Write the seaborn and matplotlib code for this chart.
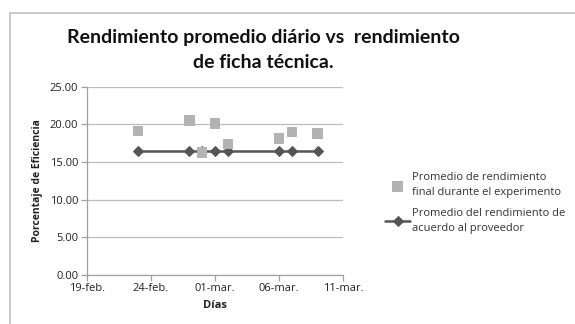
import matplotlib
matplotlib.use("Agg")
import matplotlib.pyplot as plt
from matplotlib.lines import Line2D
import seaborn as sns
import pandas as pd

# ---- data ----
dates = ["2014-02-23", "2014-02-27", "2014-02-28", "2014-03-01",
         "2014-03-02", "2014-03-06", "2014-03-07", "2014-03-09"]
experiment = [19.1, 20.5, 16.3, 20.1, 17.4, 18.1, 19.0, 18.8]
supplier = [16.5, 16.5, 16.5, 16.5, 16.5, 16.5, 16.5, 16.5]
tick_dates = ["2014-02-19", "2014-02-24", "2014-03-01", "2014-03-06", "2014-03-11"]
tick_labels = ["19-feb.", "24-feb.", "01-mar.", "06-mar.", "11-mar."]
y_ticks = [0, 5, 10, 15, 20, 25]
label_exp = "Promedio de rendimiento\nfinal durante el experimento"
label_sup = "Promedio del rendimiento de\nacuerdo al proveedor"
title = "Rendimiento promedio diário vs  rendimiento\nde ficha técnica."

df = pd.DataFrame({"fecha": pd.to_datetime(dates),
                   "exp": experiment, "sup": supplier})

sns.set_theme(style="white")
plt.rcParams["font.family"] = ["Open Sans", "DejaVu Sans"]

W, H = 575, 324
fig = plt.figure(figsize=(W / 100, H / 100), dpi=100)
ax = fig.add_axes([86.7 / W, 1 - 275 / H, (343.3 - 86.7) / W, (275 - 86.7) / H])

sns.lineplot(data=df, x="fecha", y="sup", ax=ax, color="#555555", lw=1.8,
             marker="D", markersize=5.5, markeredgecolor="#555555",
             label=label_sup, zorder=2)
sns.scatterplot(data=df, x="fecha", y="exp", ax=ax, color="#b3b3b3",
                marker="s", s=58, edgecolor="none", label=label_exp, zorder=3)

ax.set_ylim(0, 25)
ax.set_yticks(y_ticks)
ax.set_yticklabels([f"{v:.2f}" for v in y_ticks], fontsize=8, color="#222222")
td = pd.to_datetime(tick_dates)
ax.set_xlim(td[0], td[-1])
ax.set_xticks(td)
ax.set_xticklabels(tick_labels, fontsize=8, color="#222222")
ax.grid(axis="y", color="#bdbdbd", lw=0.9)
ax.set_axisbelow(True)
for s in ["top", "right"]:
    ax.spines[s].set_visible(False)
for s in ["left", "bottom"]:
    ax.spines[s].set_color("#a0a0a0")
    ax.spines[s].set_linewidth(0.9)
ax.tick_params(axis="both", which="major", length=4, width=0.9, color="#a0a0a0",
               direction="out", bottom=True, left=True, pad=2)
ax.set_xlabel("Días", fontsize=8, fontweight="bold", color="#222222", labelpad=4)
ax.set_ylabel("Porcentaje de Eficiencia", fontsize=7.5, fontweight="bold",
              color="#222222", labelpad=5)

handles, labels = ax.get_legend_handles_labels()
if ax.get_legend() is not None:
    ax.get_legend().remove()
order = [labels.index(label_exp), labels.index(label_sup)]
leg = fig.legend([handles[i] for i in order], [labels[i] for i in order],
                 loc="upper left", bbox_to_anchor=(381 / W, 1 - 168 / H),
                 frameon=False, fontsize=8, handlelength=2.2, handletextpad=0.2,
                 labelspacing=0.85, borderaxespad=0)
for t in leg.get_texts():
    t.set_color("#333333")
    t.set_linespacing(1.5)

fig.text(263 / W, 1 - 50 / H, title, ha="center", va="center", fontsize=14,
         fontweight="bold", color="#111111", linespacing=1.5,
         family=["Lato", "DejaVu Sans"])

# outer frame
fig.add_artist(Line2D([10 / W, 10 / W], [0, 1 - 13 / H], transform=fig.transFigure,
                      color="#c0c0c0", lw=1.2))
fig.add_artist(Line2D([10 / W, 1], [1 - 13 / H, 1 - 13 / H], transform=fig.transFigure,
                      color="#c0c0c0", lw=1.2))

fig.savefig("out.png", dpi=100)
